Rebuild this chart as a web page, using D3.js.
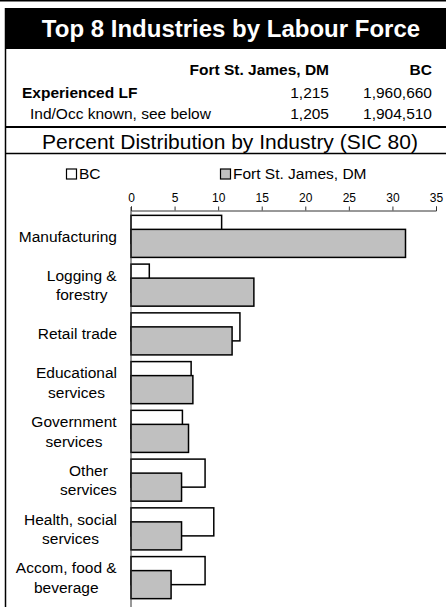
<!DOCTYPE html>
<html>
<head>
<meta charset="utf-8">
<script src="https://cdn.jsdelivr.net/npm/d3@7"></script>
<style>
  body { margin: 0; background: #fff; }
  text { font-family: "Liberation Sans", Arial, sans-serif; }
</style>
</head>
<body>
<div id="chart"></div>
<script>
// data
const categories = ["Manufacturing", "Logging &\nforestry", "Retail trade", "Educational\nservices",
  "Government\nservices", "Other\nservices", "Health, social\nservices", "Accom, food &\nbeverage"];
const bcValues = [10.4, 2.1, 12.5, 6.9, 5.9, 8.5, 9.5, 8.5];
const fsjValues = [31.5, 14.1, 11.6, 7.1, 6.6, 5.8, 5.8, 4.6];
const xTicks = [0, 5, 10, 15, 20, 25, 30, 35];
const seriesNames = ["BC", "Fort St. James, DM"];
const tableRows = [
  ["Experienced LF", "1,215", "1,960,660"],
  ["Ind/Occ known, see below", "1,205", "1,904,510"]
];

const width = 446, height = 607;

const svg = d3.select("#chart")
  .append("svg")
  .attr("width", width)
  .attr("height", height);

// frame
svg.append("line").attr("x1", 0).attr("x2", width).attr("y1", 0.75).attr("y2", 0.75)
  .attr("stroke", "#000").attr("stroke-width", 1.5);
svg.append("line").attr("x1", 5.5).attr("x2", 5.5).attr("y1", 8).attr("y2", height)
  .attr("stroke", "#000").attr("stroke-width", 1.5);

// title band
svg.append("rect").attr("x", 5).attr("y", 8).attr("width", width - 5).attr("height", 41).attr("fill", "#000");
svg.append("text")
  .attr("x", 231).attr("y", 37)
  .attr("text-anchor", "middle")
  .attr("fill", "#fff")
  .style("font-size", "24px").style("font-weight", "bold")
  .text("Top 8 Industries by Labour Force");

// table
svg.append("text").attr("x", 329).attr("y", 75).attr("text-anchor", "end")
  .style("font-size", "15.5px").style("font-weight", "bold").text(seriesNames[1]);
svg.append("text").attr("x", 432).attr("y", 75).attr("text-anchor", "end")
  .style("font-size", "15.5px").style("font-weight", "bold").text(seriesNames[0]);

tableRows.forEach((r, i) => {
  const yy = 98 + i * 21;
  svg.append("text").attr("x", i == 0 ? 22 : 30).attr("y", yy)
    .style("font-size", "15.5px").style("font-weight", i == 0 ? "bold" : "normal").text(r[0]);
  svg.append("text").attr("x", 329).attr("y", yy).attr("text-anchor", "end")
    .style("font-size", "15.5px").text(r[1]);
  svg.append("text").attr("x", 432).attr("y", yy).attr("text-anchor", "end")
    .style("font-size", "15.5px").text(r[2]);
});

svg.append("line").attr("x1", 5).attr("x2", width).attr("y1", 127).attr("y2", 127)
  .attr("stroke", "#000").attr("stroke-width", 2);
svg.append("text").attr("x", 230).attr("y", 149).attr("text-anchor", "middle")
  .style("font-size", "21px").text("Percent Distribution by Industry (SIC 80)");
svg.append("line").attr("x1", 5).attr("x2", width).attr("y1", 153.5).attr("y2", 153.5)
  .attr("stroke", "#000").attr("stroke-width", 1.3);

// legend
const legendX = [66, 220];
const legendFill = ["#fff", "#c0c0c0"];
seriesNames.forEach((s, i) => {
  svg.append("rect").attr("x", legendX[i] + 0.5).attr("y", 169).attr("width", 10).attr("height", 10)
    .attr("fill", legendFill[i]).attr("stroke", "#000").attr("stroke-width", 1.2);
  svg.append("text").attr("x", legendX[i] + 13).attr("y", 179)
    .style("font-size", "15.5px").text(s);
});

// scales
const x = d3.scaleLinear().domain([0, 35]).range([131, 436]);
const y = d3.scaleBand().domain(categories).range([212, 602]);
const step = y.step();
const barH = step * 0.575;
const pad = (step - 1.5 * barH) / 2;

// value axis on top
const xAxis = svg.append("g")
  .attr("transform", "translate(0,210.5)")
  .call(d3.axisTop(x).tickValues(xTicks).tickSize(4).tickSizeOuter(4).tickPadding(5));
xAxis.selectAll("text").style("font-size", "12px").style("font-family", "Liberation Sans, Arial, sans-serif").attr("fill", "#000");
xAxis.selectAll("line, path").attr("stroke", "#333");

// bars: BC behind, Fort St. James in front
svg.append("g").selectAll("rect")
  .data(categories)
  .join("rect")
  .attr("x", x(0))
  .attr("y", (d) => y(d) + pad)
  .attr("width", (d, i) => x(bcValues[i]) - x(0))
  .attr("height", barH)
  .attr("fill", "#fff").attr("stroke", "#000").attr("stroke-width", 1.5);

svg.append("g").selectAll("rect")
  .data(categories)
  .join("rect")
  .attr("x", x(0))
  .attr("y", (d) => y(d) + pad + barH / 2)
  .attr("width", (d, i) => x(fsjValues[i]) - x(0))
  .attr("height", barH)
  .attr("fill", "#c0c0c0").attr("stroke", "#000").attr("stroke-width", 1.5);

// category axis
const yAxis = svg.append("g")
  .attr("transform", `translate(${x(0)},0)`)
  .call(d3.axisLeft(y).tickSize(0).tickFormat(""));
yAxis.select(".domain").attr("d", `M0,207V${height}`).attr("stroke", "#333");

// category labels, centred lines, right edge at 117
const labelRight = 117, lineH = 19.5;
categories.forEach((c) => {
  const lines = c.split("\n");
  const t = svg.append("text")
    .attr("text-anchor", "middle")
    .style("font-size", "15.5px");
  const cy = y(c) + step / 2;
  lines.forEach((l, j) => {
    t.append("tspan")
      .attr("x", 0)
      .attr("y", cy + (j - (lines.length - 1) / 2) * lineH + 5.5)
      .text(l);
  });
  const w = t.node().getBBox().width;
  t.selectAll("tspan").attr("x", labelRight - w / 2);
});
</script>
</body>
</html>
